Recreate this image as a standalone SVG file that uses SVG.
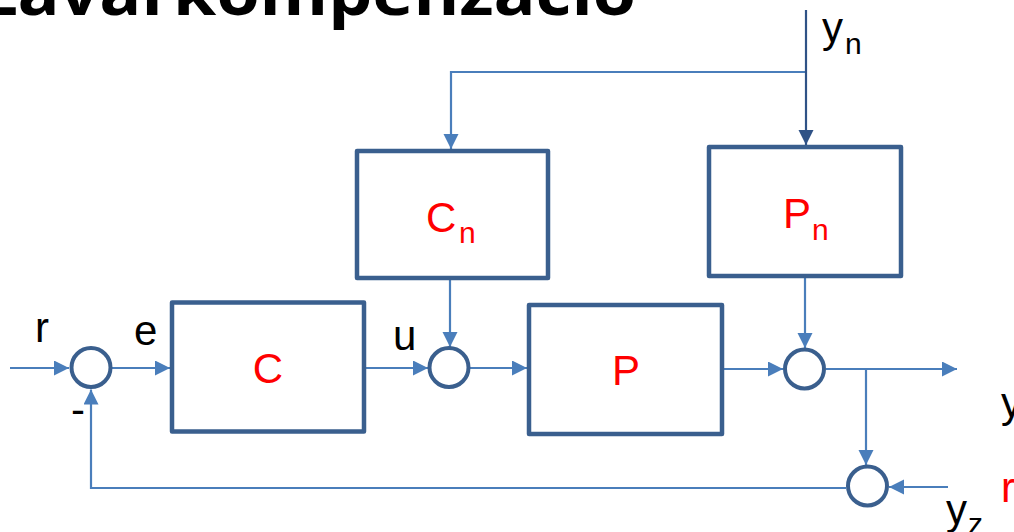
<svg xmlns="http://www.w3.org/2000/svg" width="1014" height="532" viewBox="0 0 1014 532">
  <style>
    .box { fill: #ffffff; stroke: #3a5f8e; stroke-width: 4.5; stroke-linejoin: round; }
    .sum { fill: #ffffff; stroke: #3a5f8e; stroke-width: 4; }
    .wire { fill: none; stroke: #4a7ebb; stroke-width: 2.2; }
    .wire-dark { fill: none; stroke: #2f5286; stroke-width: 2.2; }
    .lbl { font-family: "Liberation Sans", Arial, sans-serif; font-size: 42px; fill: #000000; }
    .sub { font-size: 30px; }
    .blk { font-family: "Liberation Sans", Arial, sans-serif; font-size: 42px; fill: #ff0000; }
    .title { font-family: "Open Sans", "Liberation Sans", sans-serif; font-size: 62px; font-weight: 700; fill: #000000; }
  </style>
  <defs>
    <marker id="arrow" markerUnits="userSpaceOnUse" markerWidth="16" markerHeight="16" refX="15" refY="7.5" orient="auto">
      <path d="M0,0 L15,7.5 L0,15 z" fill="#4a7ebb"/>
    </marker>
    <marker id="arrow-dark" markerUnits="userSpaceOnUse" markerWidth="16" markerHeight="16" refX="15" refY="7.5" orient="auto">
      <path d="M0,0 L15,7.5 L0,15 z" fill="#2f5286"/>
    </marker>
  </defs>

  <rect width="1014" height="532" fill="#ffffff"/>

  <!-- heading, partly above the page edge -->
  <text class="title" x="-23" y="15" textLength="659" lengthAdjust="spacingAndGlyphs">Zavarkompenzáció</text>

  <!-- signal lines -->
  <g id="connectors">
    <line class="wire" x1="10" y1="368" x2="69" y2="368" marker-end="url(#arrow)"/>
    <line class="wire" x1="112" y1="368" x2="170" y2="368" marker-end="url(#arrow)"/>
    <path class="wire" d="M846,488 L91,488 L91,389.5" marker-end="url(#arrow)"/>
    <line class="wire" x1="366" y1="368" x2="428" y2="368" marker-end="url(#arrow)"/>
    <line class="wire" x1="470" y1="368" x2="527" y2="368" marker-end="url(#arrow)"/>
    <line class="wire" x1="450" y1="280" x2="450" y2="347" marker-end="url(#arrow)"/>
    <line class="wire" x1="724" y1="369" x2="783" y2="369" marker-end="url(#arrow)"/>
    <line class="wire" x1="805" y1="278" x2="805" y2="348" marker-end="url(#arrow)"/>
    <line class="wire" x1="826" y1="369" x2="957" y2="369" marker-end="url(#arrow)"/>
    <line class="wire" x1="866" y1="369" x2="866" y2="465" marker-end="url(#arrow)"/>
    <line class="wire" x1="948" y1="487" x2="889" y2="487" marker-end="url(#arrow)"/>
    <path class="wire" d="M806,72 L451,72 L451,149" marker-end="url(#arrow)"/>
    <line class="wire-dark" x1="806" y1="10" x2="806" y2="145" marker-end="url(#arrow-dark)"/>
  </g>

  <!-- summing junctions -->
  <g id="sum1"><circle class="sum" cx="91" cy="367.5" r="19.5"/></g>
  <g id="sum2"><circle class="sum" cx="449" cy="367.5" r="19.5"/></g>
  <g id="sum3"><circle class="sum" cx="804.5" cy="369" r="19.5"/></g>
  <g id="sum4"><circle class="sum" cx="867.5" cy="486" r="19.5"/></g>

  <!-- blocks -->
  <g id="C">
    <rect class="box" x="172" y="302.5" width="192" height="129"/>
    <text class="blk" x="268" y="383" text-anchor="middle">C</text>
  </g>
  <g id="P">
    <rect class="box" x="529" y="305" width="193" height="129"/>
    <text class="blk" x="626" y="385" text-anchor="middle">P</text>
  </g>
  <g id="Cn">
    <rect class="box" x="357" y="151" width="191" height="127"/>
    <text class="blk" x="426" y="232">C<tspan class="sub" x="459" y="243">n</tspan></text>
  </g>
  <g id="Pn">
    <rect class="box" x="709" y="147" width="192" height="129"/>
    <text class="blk" x="783" y="228">P<tspan class="sub" x="812" y="240">n</tspan></text>
  </g>

  <!-- signal names -->
  <g id="labels">
    <text class="lbl" x="35" y="342">r</text>
    <text class="lbl" x="134" y="345">e</text>
    <text class="lbl" x="393" y="350">u</text>
    <text class="lbl" x="71" y="424">-</text>
    <text class="lbl" x="822" y="42">y<tspan class="sub" x="845" y="54">n</tspan></text>
    <text class="lbl" x="1001" y="417">y</text>
    <text class="lbl" x="946" y="524">y<tspan class="sub" x="968" y="534">z</tspan></text>
    <text class="blk" x="1001" y="502">r</text>
  </g>
</svg>
